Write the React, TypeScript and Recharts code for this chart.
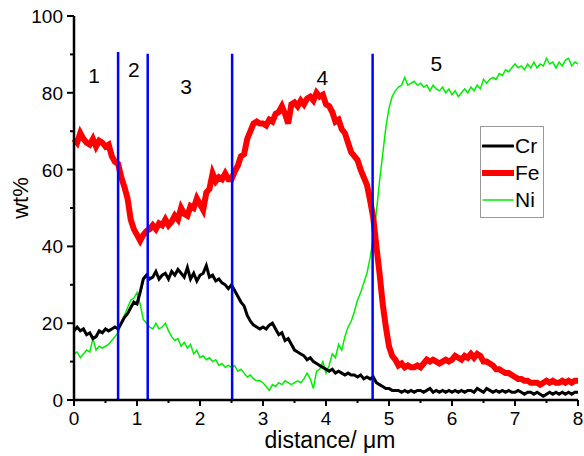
import { LineChart, Line, XAxis, YAxis, ReferenceLine, ReferenceDot, Legend, Label } from "recharts";

const FONT = "'Liberation Sans', Arial, sans-serif";
const CR = "#000000";
const FE = "#ff0000";
const NI = "#00ee00";
const BLUE = "#0000ff";

const STEP = 0.05;

const cr = [
  18, 19, 18, 18.5, 17, 17.5, 16, 16.5, 18, 17.5, 18.5, 18, 18.5, 19, 18.5, 20, 21.5, 22.5, 24, 25.5,
  25, 28, 31.5, 32.5, 31.5, 32, 33.5, 31.5, 32.5, 33, 31.5, 33.5, 32.5, 34, 33, 32, 34.5, 31.5, 33, 31,
  32.5, 33, 35, 32, 32.5, 31, 31.5, 30.5, 30, 29, 30, 28.5, 27, 25.5, 24.5, 22, 20.5, 19.5, 19, 18.5,
  19, 18.5, 19.5, 20, 18.5, 17, 17.5, 15.5, 16, 14.5, 13, 12.5, 12, 11.5, 10.5, 11, 10, 9.5, 9, 8.5,
  8, 7.5, 8, 7, 7.5, 7, 6.5, 7, 6.5, 6.5, 6, 6.5, 5.5, 6, 5.5, 6, 4.5, 4, 3.5, 3,
  3, 2.5, 2.5, 2.5, 2, 2.5, 2, 2.5, 2, 2.5, 2.5, 2, 2.5, 3, 2, 2.5, 2, 2.5, 2, 2.5,
  2, 2.5, 2, 2.5, 2, 2.5, 2.5, 2, 3, 2.5, 2, 3, 2.5, 2, 2.5, 2, 2.5, 2, 2.5, 2,
  2, 2.5, 2, 1.5, 2, 2, 1.5, 2, 1.5, 1, 1.5, 2, 1.5, 2, 1.5, 2, 1.5, 2, 1.5, 2,
  2,
];

const fe = [
  68, 67, 69.5, 68, 67, 66.5, 68, 66, 67.5, 67, 66, 66.5, 63.5, 62, 61.5, 58, 55.5, 52.5, 47, 44.5,
  43, 41.5, 43, 44, 44.5, 45.5, 44.5, 46, 45.5, 47, 45.5, 46.5, 48, 47, 50, 48.5, 48, 50.5, 50, 52.5,
  51, 49.5, 54, 55, 59, 57, 58, 57.5, 59, 57.5, 57.5, 59.5, 61, 63.5, 64, 68, 70, 72, 72.5, 72,
  72, 71.5, 73, 72.5, 74.5, 75, 76.5, 74.5, 72, 77, 77.5, 76.5, 78, 77, 78.5, 79, 78, 80, 79, 79.5,
  77, 76.5, 75, 72.5, 73, 70.5, 69.5, 67, 64.5, 63.5, 62.5, 60, 58, 56, 52, 47.5, 40, 33, 25, 19,
  14, 11.5, 10.5, 9, 9.5, 8.5, 9, 8.5, 8.5, 9, 8.5, 9.5, 10.5, 10, 10.5, 10, 9.5, 10, 10.5, 10,
  10.5, 11.5, 11, 10.5, 11.5, 11, 12, 11, 12, 11.5, 10, 10, 9.5, 9, 8, 8, 7.5, 7, 7, 6.5,
  6, 5.5, 5.5, 5, 5, 4.5, 4.5, 4.5, 4, 4.5, 5, 4.5, 5, 4.5, 4.5, 5, 4.5, 5, 4.5, 5,
  5,
];

const ni = [
  12, 12.5, 11, 12, 13, 12.5, 16, 13, 14, 13.5, 14, 14.5, 15.5, 16.5, 17.5, 20, 22, 24, 26, 26.5,
  28, 25, 21, 20, 19, 18.5, 20, 18.5, 19, 20, 18, 16.5, 15.5, 16, 14, 15, 13.5, 14.5, 12, 13,
  11, 11.5, 10.5, 11, 10, 10.5, 9, 9.5, 8.5, 9, 8.5, 9, 7.5, 8, 7, 6, 6.5, 5.5, 5, 5,
  4.5, 3.5, 2.5, 4, 3.5, 4.5, 4, 5, 4.5, 4, 4.5, 5, 4.5, 5.5, 7, 5.5, 3, 7.5, 8, 10,
  7, 9, 12, 11, 14.5, 13, 16.5, 19, 20.5, 23, 26, 28, 30.5, 33, 37, 42, 49, 57, 64, 71,
  76, 79, 80.5, 81.5, 82, 84, 82, 82.5, 83, 82, 82.5, 81.5, 82, 80.5, 82, 81, 80.5, 81.5, 80, 81,
  79.5, 80.5, 79, 80, 81, 80, 81.5, 80.5, 82, 81, 83.5, 82.5, 83.5, 84, 83.5, 85, 84.5, 86, 85.5, 86.5,
  87.5, 86.5, 87, 86, 87.5, 86.5, 88, 86.5, 87.5, 87, 89, 87.5, 88, 86.5, 88, 87, 88.5, 89, 87, 88,
  87.5,
];

const boundaries = [
  { x: 0.7, top: 90.6 },
  { x: 1.17, top: 90.2 },
  { x: 2.51, top: 90.2 },
  { x: 4.74, top: 90.2 },
];

const regions = [
  { label: "1", x: 0.32, y: 84.5 },
  { label: "2", x: 0.95, y: 86 },
  { label: "3", x: 1.78, y: 81.5 },
  { label: "4", x: 3.94, y: 84 },
  { label: "5", x: 5.75, y: 87.5 },
];

const xTicks = [0, 0.5, 1, 1.5, 2, 2.5, 3, 3.5, 4, 4.5, 5, 5.5, 6, 6.5, 7, 7.5, 8];
const yTicks = [0, 10, 20, 30, 40, 50, 60, 70, 80, 90, 100];

const series = [
  { key: "Cr", color: CR, width: 3 },
  { key: "Fe", color: FE, width: 6 },
  { key: "Ni", color: NI, width: 1.5 },
];

const data = cr.map((v, i) => ({
  d: +(i * STEP).toFixed(2),
  Cr: v,
  Fe: fe[i],
  Ni: ni[i],
}));

function XTick({ x, y, payload }: any) {
  const major = Number.isInteger(payload.value);
  return (
    <g>
      <line x1={x} x2={x} y1={y} y2={y + (major ? 6 : 3)} stroke="#000" strokeWidth={2} />
      {major && (
        <text x={x} y={y + 25} textAnchor="middle" fontSize={19} fontFamily={FONT} fill="#000">
          {payload.value}
        </text>
      )}
    </g>
  );
}

function YTick({ x, y, payload }: any) {
  const major = payload.value % 20 === 0;
  return (
    <g>
      <line x1={x} x2={x - (major ? 7 : 4)} y1={y} y2={y} stroke="#000" strokeWidth={2} />
      {major && (
        <text x={x - 11} y={y + 7} textAnchor="end" fontSize={19} fontFamily={FONT} fill="#000">
          {payload.value}
        </text>
      )}
    </g>
  );
}

function LegendBox() {
  return (
    <div
      style={{
        border: "1px solid #999",
        background: "#fff",
        padding: "5px 0 4px 1px",
        fontFamily: FONT,
        fontSize: 21,
        lineHeight: "27px",
      }}
    >
      {series.map((s) => (
        <div key={s.key} style={{ display: "flex", alignItems: "center" }}>
          <svg width={32} height={8}>
            <line x1={1} x2={31} y1={4} y2={4} stroke={s.color} strokeWidth={s.width} strokeLinecap="round" />
          </svg>
          <span style={{ marginLeft: 1 }}>{s.key}</span>
        </div>
      ))}
    </div>
  );
}

export default function App() {
  return (
    <div style={{ width: 584, height: 456, background: "#fff" }}>
      <style>{"body{margin:0}"}</style>
      <LineChart width={584} height={456} data={data} margin={{ top: 16, right: 6, bottom: 0, left: 0 }}>
        <XAxis
          dataKey="d"
          type="number"
          domain={[0, 8]}
          ticks={xTicks}
          interval={0}
          tickSize={0}
          tickMargin={0}
          tickLine={false}
          tick={<XTick />}
          height={56}
          axisLine={{ stroke: "#000", strokeWidth: 2.5 }}
        >
          <Label
            content={() => (
              <text x={330} y={448} textAnchor="middle" fontSize={23} fontFamily={FONT} fill="#000">
                distance/ μm
              </text>
            )}
          />
        </XAxis>
        <YAxis
          type="number"
          domain={[0, 100]}
          ticks={yTicks}
          interval={0}
          tickSize={0}
          tickMargin={0}
          tickLine={false}
          tick={<YTick />}
          width={74}
          axisLine={{ stroke: "#000", strokeWidth: 2.5 }}
        >
          <Label
            content={() => (
              <text
                x={28}
                y={198}
                transform="rotate(-90 28 198)"
                textAnchor="middle"
                fontSize={22}
                fontFamily={FONT}
                fill="#000"
              >
                wt%
              </text>
            )}
          />
        </YAxis>
        <Legend
          verticalAlign="middle"
          align="center"
          layout="horizontal"
          content={() => <LegendBox />}
          wrapperStyle={{ left: 480, top: 126, width: 64 }}
        />
        <Line dataKey="Ni" type="linear" stroke={NI} strokeWidth={1.5} dot={false} isAnimationActive={false} />
        <Line dataKey="Cr" type="linear" stroke={CR} strokeWidth={3} dot={false} isAnimationActive={false} />
        <Line dataKey="Fe" type="linear" stroke={FE} strokeWidth={6} dot={false} isAnimationActive={false} />
        {boundaries.map((b) => (
          <ReferenceLine
            key={b.x}
            segment={[
              { x: b.x, y: 0 },
              { x: b.x, y: b.top },
            ]}
            stroke={BLUE}
            strokeWidth={2.5}
          />
        ))}
        {regions.map((r) => (
          <ReferenceDot
            key={r.label}
            x={r.x}
            y={r.y}
            r={0}
            fill="none"
            stroke="none"
            label={{ value: r.label, position: "center", fontSize: 21, fontFamily: FONT, fill: "#000" }}
          />
        ))}
      </LineChart>
    </div>
  );
}
